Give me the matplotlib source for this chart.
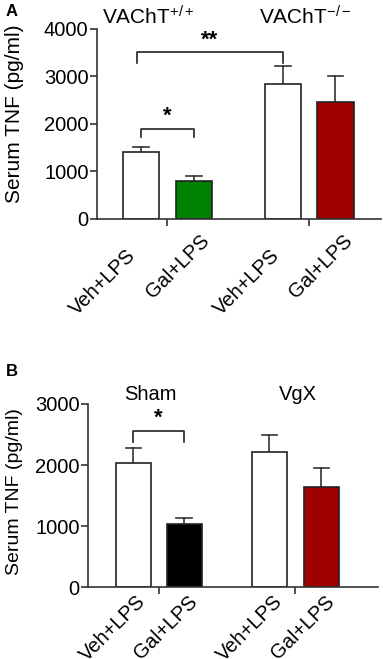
import matplotlib
matplotlib.use("Agg")
import matplotlib.pyplot as plt
from matplotlib.transforms import ScaledTranslation

plt.rcParams['font.family'] = ['Liberation Sans', 'DejaVu Sans']
plt.rcParams['mathtext.default'] = 'regular'

# Panel A data
labels_a = ["Veh+LPS", "Gal+LPS", "Veh+LPS", "Gal+LPS"]
means_a = [1410, 800, 2840, 2460]
sems_a = [110, 105, 380, 550]
colors_a = ["white", "#008000", "white", "#a00000"]
groups_a = ["VAChT$^{+/+}$", "VAChT$^{-/-}$"]

# Panel B data
labels_b = ["Veh+LPS", "Gal+LPS", "Veh+LPS", "Gal+LPS"]
means_b = [2030, 1040, 2220, 1645]
sems_b = [250, 90, 275, 300]
colors_b = ["white", "black", "white", "#a00000"]
groups_b = ["Sham", "VgX"]

fig = plt.figure(figsize=(3.83, 6.59), dpi=100)
EDGE = "#222222"


def draw_panel(ax, pos, means, sems, colors, ymax, width):
    ax.bar(pos, means, width=width, color=colors, edgecolor=EDGE, linewidth=1.2, zorder=2)
    for x, m, s in zip(pos, means, sems):
        ax.plot([x, x], [m, m + s], color="#333333", lw=1.2, zorder=1)
        ax.plot([x - width * 0.22, x + width * 0.22], [m + s, m + s], color="#333333", lw=1.2, zorder=1)
    ax.set_ylim(0, ymax)
    ax.set_yticks(range(0, ymax + 1, 1000))
    ax.spines[['top', 'right']].set_visible(False)
    for sp in ['left', 'bottom']:
        ax.spines[sp].set_linewidth(1.2)
        ax.spines[sp].set_color("#333333")
    ax.tick_params(axis='y', labelsize=14.5, width=1.2, length=5, color="#333333", pad=1)
    ax.set_xticks([(pos[0] + pos[1]) / 2, (pos[2] + pos[3]) / 2])
    ax.set_xticklabels([])
    ax.tick_params(axis='x', width=1.2, length=5, color="#333333")


def bar_labels(ax, pos, labels, offsets, size):
    # rotated labels anchored by their top-right corner, offset in pixels
    for x, lab, (dx, dy) in zip(pos, labels, offsets):
        off = ScaledTranslation(dx / 100, dy / 100, fig.dpi_scale_trans)
        ax.text(x, 0, lab, transform=ax.get_xaxis_transform() + off, rotation=45,
                rotation_mode='anchor', ha='right', va='top', fontsize=size, clip_on=False)


def group_titles(ax, xs, groups, size):
    for g, x in zip(groups, xs):
        ax.text(x, 1.0, g, transform=ax.get_xaxis_transform(), ha='center', va='bottom', fontsize=size)


def bracket(ax, x0, x1, y, drop, star):
    ax.plot([x0, x0, x1, x1], [y - drop, y, y, y - drop], color=EDGE, lw=1.2)
    ax.text((x0 + x1) / 2, y + 40, star, ha='center', va='bottom', fontsize=16, fontweight='bold')


# Panel A
axa = fig.add_axes([0.253, 0.668, 0.742, 0.288])
pos_a = [0, 1, 2.68, 3.67]
draw_panel(axa, pos_a, means_a, sems_a, colors_a, 4000, 0.68)
axa.set_xlim(-0.83, 4.53)
axa.set_ylabel("Serum TNF (pg/ml)", fontsize=15)
axa.yaxis.set_label_coords(-0.255, 0.553)
bar_labels(axa, pos_a, labels_a, [(-15, -27), (6, -12), (-13, -27), (7, -12)], 14.5)
group_titles(axa, [0.15, 3.11], groups_a, 15)
bracket(axa, -0.07, 2.68, 3510, 220, "**")
bracket(axa, 0, 1, 1890, 170, "*")
fig.text(0.015, 0.982, "A", fontsize=12, fontweight='bold', va='center')

# Panel B
axb = fig.add_axes([0.230, 0.109, 0.757, 0.278])
pos_b = [0, 0.98, 2.62, 3.62]
draw_panel(axb, pos_b, means_b, sems_b, colors_b, 3000, 0.68)
axb.set_xlim(-0.87, 4.71)
axb.set_ylabel("Serum TNF (pg/ml)", fontsize=14)
axb.yaxis.set_label_coords(-0.225, 0.52)
bar_labels(axb, pos_b, labels_b, [(3, -5)] * 4, 14.5)
group_titles(axb, [0.33, 3.17], groups_b, 14.5)
bracket(axb, 0, 0.98, 2560, 180, "*")
fig.text(0.015, 0.436, "B", fontsize=12, fontweight='bold', va='center')

fig.savefig("out.png", dpi=100)
